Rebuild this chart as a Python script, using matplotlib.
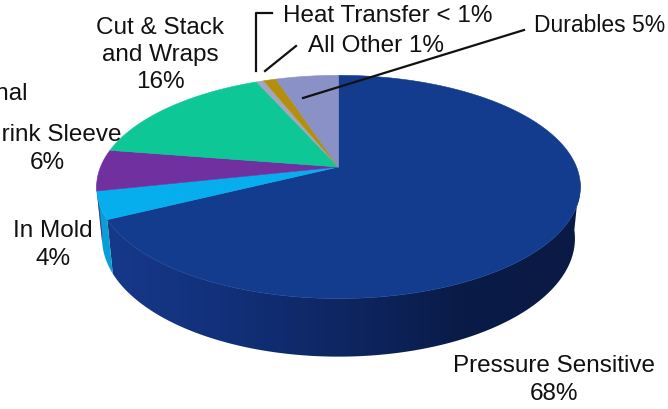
import numpy as np
import matplotlib
matplotlib.use("Agg")
import matplotlib.pyplot as plt
from matplotlib.patches import Polygon
from matplotlib.colors import LinearSegmentedColormap
from matplotlib import font_manager

# --- data -------------------------------------------------------------
segments = ["Pressure Sensitive", "In Mold", "Shrink Sleeve", "Cut & Stack and Wraps",
            "Heat Transfer", "All Other", "Durables"]
shares = [68, 4, 6, 16, 0.6, 1, 5]
label_texts = ["Pressure Sensitive\n68%", "In Mold\n4%", "Shrink Sleeve\n6%",
               "Cut & Stack\nand Wraps\n16%", "Heat Transfer < 1%", "All Other 1%",
               "Durables 5%"]
top_colors = ["#133C8E", "#06AEEE", "#7030A0", "#0DC796", "#A2A6BE", "#B48F0C", "#8A91C6"]
# side wall colours, light (left) to dark (right)
side_ramps = [["#17398A", "#12307A", "#0E2661", "#0A1B48", "#0B1A44"],
              ["#0A9FD8", "#0A95CC"],
              ["#5E2888", "#55237C"],
              ["#0BAA80", "#09A078"],
              ["#8A8EA8", "#80849E"],
              ["#937309", "#8A6B08"],
              ["#7178AA", "#6A70A0"]]

# --- font ---------------------------------------------------------------
available = {f.name for f in font_manager.fontManager.ttflist}
family = [f for f in ["Liberation Sans Narrow", "Liberation Sans", "DejaVu Sans"] if f in available]
plt.rcParams["font.family"] = family

W, H = 668, 410
fig = plt.figure(figsize=(W / 100, H / 100), dpi=100)
ax = fig.add_axes([0, 0, 1, 1])
ax.set_xlim(0, W)
ax.set_ylim(H, 0)
ax.axis("off")

# --- perspective projection of a tilted cylinder ---------------------------
cx, cy, k = 338.5, 168.0, 238.0
phi = np.radians(27.0)
D = 4.99
depth = 0.245


def project(theta_deg, level):
    t = np.radians(theta_deg)
    X, Z, Y = np.sin(t), np.cos(t), level
    yv = Y * np.cos(phi) + Z * np.sin(phi)
    zv = Z * np.cos(phi) - Y * np.sin(phi)
    f = D / (D + zv)
    return cx + k * X * f, cy - k * yv * f


total = sum(shares)
bounds = np.concatenate([[0], np.cumsum(shares)]) / total * 360.0

# side walls: only the part of the rim that faces the viewer
for i, (a0, a1) in enumerate(zip(bounds[:-1], bounds[1:])):
    lo, hi = max(a0, 96.0), min(a1, 262.0)
    if hi <= lo:
        continue
    ts = np.linspace(lo, hi, int((hi - lo) * 2) + 2)
    pts = [project(t, 0) for t in ts] + [project(t, -depth) for t in ts[::-1]]
    poly = Polygon(pts, closed=True, facecolor="none", edgecolor="none")
    ax.add_patch(poly)
    xs = [p[0] for p in pts]
    ys = [p[1] for p in pts]
    cmap = LinearSegmentedColormap.from_list("wall%d" % i, side_ramps[i])
    grad = np.linspace(0, 1, 256)[None, :]
    x0, x1 = min(xs) - 1, max(xs) + 1
    if i != 0:
        x0, x1 = 90, 580
    im = ax.imshow(grad, cmap=cmap, extent=[x0, x1, max(ys) + 1, min(ys) - 1],
                   aspect="auto", interpolation="bilinear", zorder=1)
    im.set_clip_path(poly)

# top faces
for i, (a0, a1) in enumerate(zip(bounds[:-1], bounds[1:])):
    ts = np.linspace(a0, a1, max(3, int(a1 - a0) * 2 + 2))
    pts = [(cx, cy)] + [project(t, 0) for t in ts]
    ax.add_patch(Polygon(pts, closed=True, facecolor=top_colors[i],
                         edgecolor=top_colors[i], linewidth=0.4, zorder=2))

ax.set_xlim(0, W)
ax.set_ylim(H, 0)

# --- labels ----------------------------------------------------------------
fs = 17.5
txt = dict(fontsize=fs, color="#111111", linespacing=1.3, zorder=5)
ax.text(554, 380, label_texts[0], ha="center", va="center", **txt)
ax.text(53, 245, label_texts[1], ha="center", va="center", **txt)
ax.text(47, 149, label_texts[2], ha="center", va="center", **txt)
ax.text(160, 55, label_texts[3], ha="center", va="center", **txt)
ax.text(283, 16, label_texts[4], ha="left", va="center", **txt)
ax.text(308, 46, label_texts[5], ha="left", va="center", **txt)
ax.text(665, 25, label_texts[6], ha="right", va="center",
        **{**txt, "fontsize": 16.5})
ax.text(28, 94, "Conventional", ha="right", va="center", **txt)

# leader lines
line = dict(color="#111111", linewidth=1.6, zorder=4)
ax.plot([272, 256, 256], [14, 14, 72], **line)
ax.plot([296, 265], [47, 72], **line)
ax.plot([524, 303], [31, 99], **line)

fig.savefig("out.png", dpi=100)
